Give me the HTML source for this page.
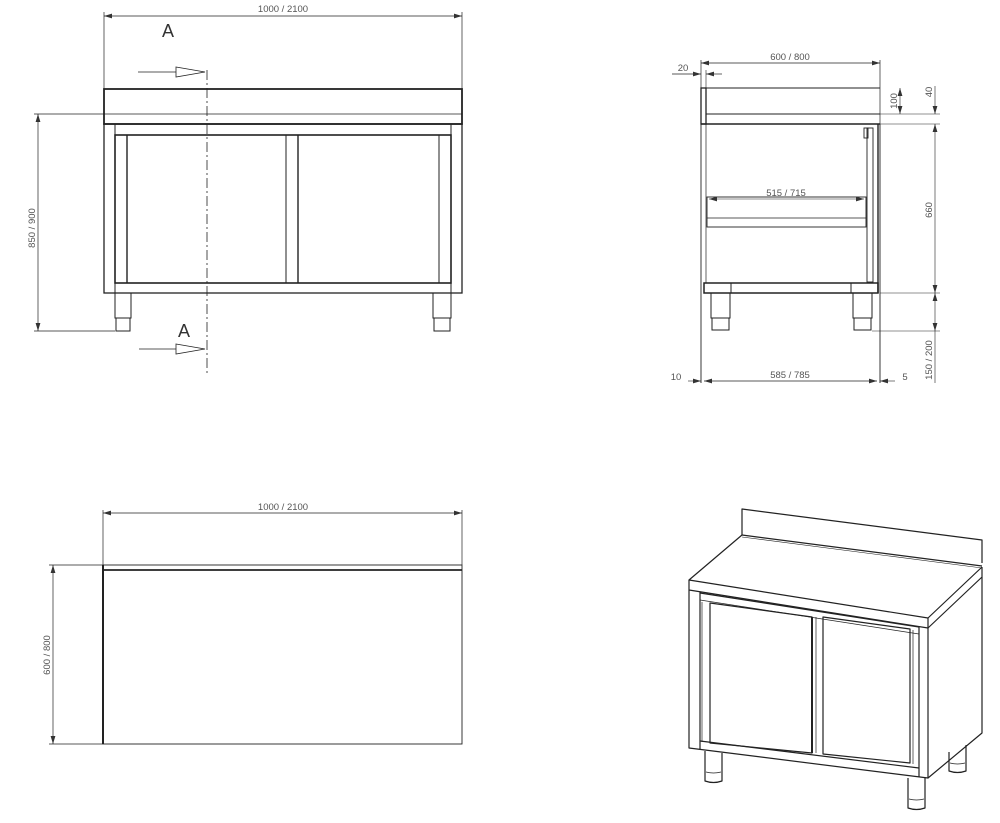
<!DOCTYPE html>
<html><head><meta charset="utf-8"><style>
html,body{margin:0;padding:0;background:#fff;}
svg{display:block;}
text{font-family:"Liberation Sans",sans-serif;font-size:9.5px;fill:#555;stroke:none;font-weight:normal;}
.big{font-size:18px;fill:#333;}
</style></head><body>
<svg width="1000" height="823" viewBox="0 0 1000 823" xmlns="http://www.w3.org/2000/svg" fill="none" stroke="#222" stroke-width="1">
<defs>
<marker id="ar" viewBox="0 0 10 6" refX="10" refY="3" markerWidth="8" markerHeight="5" orient="auto-start-reverse" markerUnits="userSpaceOnUse"><path d="M0,0 L10,3 L0,6 z" fill="#333" stroke="none"/></marker>
</defs>

<!-- ===== FRONT VIEW ===== -->
<line x1="104" y1="16" x2="462" y2="16" stroke-width="0.7" marker-start="url(#ar)" marker-end="url(#ar)"/>
<line x1="104" y1="12" x2="104" y2="89" stroke-width="0.7"/>
<line x1="462" y1="12" x2="462" y2="89" stroke-width="0.7"/>
<text x="283" y="12" text-anchor="middle">1000 / 2100</text>
<text x="168" y="37" class="big" text-anchor="middle">A</text>
<line x1="138" y1="72" x2="176" y2="72" stroke-width="0.8"/>
<path d="M176,67 L205,72 L176,77 Z" stroke-width="0.8"/>
<line x1="207" y1="70" x2="207" y2="373" stroke-width="0.8" stroke-dasharray="10,3,2,3"/>
<text x="184" y="337" class="big" text-anchor="middle">A</text>
<line x1="139" y1="349" x2="176" y2="349" stroke-width="0.8"/>
<path d="M176,344 L205,349 L176,354 Z" stroke-width="0.8"/>
<rect x="104" y="89" width="358" height="35" stroke-width="1.8"/>
<line x1="104" y1="114" x2="462" y2="114" stroke-width="0.8"/>
<rect x="104" y="124" width="358" height="169" stroke-width="1.3"/>
<line x1="115" y1="124" x2="115" y2="293"/>
<line x1="451" y1="124" x2="451" y2="293"/>
<rect x="115" y="135" width="336" height="148" stroke-width="1.6"/>
<line x1="127" y1="135" x2="127" y2="283" stroke-width="1.4"/>
<line x1="286" y1="135" x2="286" y2="283"/>
<line x1="298" y1="135" x2="298" y2="283" stroke-width="1.4"/>
<line x1="439" y1="135" x2="439" y2="283"/>
<rect x="115" y="293" width="16" height="25"/>
<rect x="116" y="318" width="14" height="13"/>
<rect x="433" y="293" width="18" height="25"/>
<rect x="434" y="318" width="16" height="13"/>
<line x1="38" y1="114" x2="38" y2="331" stroke-width="0.7" marker-start="url(#ar)" marker-end="url(#ar)"/>
<line x1="34" y1="114" x2="104" y2="114" stroke-width="0.7"/>
<line x1="34" y1="331" x2="115" y2="331" stroke-width="0.7"/>
<text transform="translate(35,228) rotate(-90)" text-anchor="middle">850 / 900</text>

<!-- ===== SIDE VIEW ===== -->
<line x1="701" y1="63" x2="880" y2="63" stroke-width="0.7" marker-start="url(#ar)" marker-end="url(#ar)"/>
<line x1="701" y1="60" x2="701" y2="88" stroke-width="0.7"/>
<line x1="880" y1="60" x2="880" y2="124" stroke-width="0.7"/>
<text x="790" y="60" text-anchor="middle">600 / 800</text>
<text x="683" y="71" text-anchor="middle">20</text>
<line x1="672" y1="74" x2="701" y2="74" stroke-width="0.7" marker-end="url(#ar)"/>
<line x1="722" y1="74" x2="706" y2="74" stroke-width="0.7" marker-end="url(#ar)"/>
<line x1="706" y1="70" x2="706" y2="88" stroke-width="0.6"/>
<rect x="701" y="88" width="5" height="36" stroke-width="1.3"/>
<line x1="706" y1="88" x2="880" y2="88" stroke-width="0.9"/>
<line x1="706" y1="114" x2="880" y2="114" stroke-width="0.9"/>
<line x1="701" y1="124" x2="880" y2="124" stroke-width="1.6"/>
<line x1="701" y1="124" x2="701" y2="383" stroke-width="0.9"/>
<line x1="706" y1="124" x2="706" y2="283" stroke-width="0.7"/>
<line x1="880" y1="124" x2="880" y2="383" stroke-width="0.9"/>
<line x1="878" y1="124" x2="878" y2="293" stroke-width="1.4"/>
<rect x="867" y="128" width="6" height="154" stroke-width="0.9"/>
<rect x="864" y="128" width="4" height="10" stroke-width="0.9"/>
<rect x="707" y="197" width="159" height="30" stroke-width="0.9"/>
<line x1="707" y1="218" x2="866" y2="218" stroke-width="0.8"/>
<line x1="709" y1="199" x2="864" y2="199" stroke-width="0.6" marker-start="url(#ar)" marker-end="url(#ar)"/>
<text x="786" y="196" text-anchor="middle">515 / 715</text>
<rect x="704" y="283" width="174" height="10" stroke-width="1.5"/>
<line x1="731" y1="283" x2="731" y2="293"/>
<line x1="851" y1="283" x2="851" y2="293"/>
<rect x="711" y="293" width="19" height="25"/>
<rect x="712" y="318" width="17" height="12"/>
<rect x="853" y="293" width="19" height="25"/>
<rect x="854" y="318" width="17" height="12"/>
<line x1="900" y1="88" x2="900" y2="114" stroke-width="0.6" marker-start="url(#ar)" marker-end="url(#ar)"/>
<text transform="translate(897,101) rotate(-90)" text-anchor="middle">100</text>
<line x1="935" y1="86" x2="935" y2="114" stroke-width="0.6" marker-end="url(#ar)"/>
<text transform="translate(932,92) rotate(-90)" text-anchor="middle">40</text>
<line x1="880" y1="114" x2="940" y2="114" stroke-width="0.6"/>
<line x1="935" y1="124" x2="935" y2="293" stroke-width="0.6" marker-start="url(#ar)" marker-end="url(#ar)"/>
<text transform="translate(932,210) rotate(-90)" text-anchor="middle">660</text>
<line x1="880" y1="124" x2="940" y2="124" stroke-width="0.6"/>
<line x1="880" y1="293" x2="940" y2="293" stroke-width="0.6"/>
<line x1="935" y1="293" x2="935" y2="331" stroke-width="0.6" marker-start="url(#ar)" marker-end="url(#ar)"/>
<line x1="872" y1="331" x2="940" y2="331" stroke-width="0.6"/>
<line x1="935" y1="331" x2="935" y2="383" stroke-width="0.6"/>
<text transform="translate(932,360) rotate(-90)" text-anchor="middle">150 / 200</text>
<line x1="704" y1="381" x2="877" y2="381" stroke-width="0.7" marker-start="url(#ar)" marker-end="url(#ar)"/>
<text x="790" y="378" text-anchor="middle">585 / 785</text>
<text x="676" y="380" text-anchor="middle">10</text>
<line x1="688" y1="381" x2="701" y2="381" stroke-width="0.6" marker-end="url(#ar)"/>
<text x="905" y="380" text-anchor="middle">5</text>
<line x1="895" y1="381" x2="880" y2="381" stroke-width="0.6" marker-end="url(#ar)"/>

<!-- ===== TOP VIEW ===== -->
<line x1="103" y1="513" x2="462" y2="513" stroke-width="0.7" marker-start="url(#ar)" marker-end="url(#ar)"/>
<line x1="103" y1="510" x2="103" y2="565" stroke-width="0.7"/>
<line x1="462" y1="510" x2="462" y2="565" stroke-width="0.7"/>
<text x="283" y="510" text-anchor="middle">1000 / 2100</text>
<rect x="103" y="565" width="359" height="179" stroke-width="0.9"/>
<line x1="103" y1="570" x2="462" y2="570" stroke-width="1.8"/>
<line x1="103" y1="565" x2="103" y2="744" stroke-width="2"/>
<line x1="53" y1="565" x2="53" y2="744" stroke-width="0.7" marker-start="url(#ar)" marker-end="url(#ar)"/>
<line x1="49" y1="565" x2="103" y2="565" stroke-width="0.7"/>
<line x1="49" y1="744" x2="103" y2="744" stroke-width="0.7"/>
<text transform="translate(50,655) rotate(-90)" text-anchor="middle">600 / 800</text>

<!-- ===== ISOMETRIC ===== -->
<g stroke-width="1.2" stroke-linejoin="round">
<path d="M742,535 L742,509 L982,540 L982,563"/>
<line x1="742" y1="535" x2="982" y2="566"/>
<line x1="742" y1="537" x2="982" y2="568" stroke-width="0.6"/>
<path d="M742,535 L689,580 L928,618 L982,567"/>
<path d="M689,580 L689,590 L928,628 L928,618"/>
<path d="M928,628 L982,577 L982,567"/>
<path d="M689,590 L689,748 L928,778 L928,628"/>
<line x1="700" y1="592" x2="700" y2="749"/>
<line x1="919" y1="627" x2="919" y2="777"/>
<path d="M982,577 L982,733 L928,778"/>
<line x1="700" y1="593" x2="919" y2="627"/>
<line x1="700" y1="600" x2="919" y2="634" stroke-width="0.7"/>
<line x1="700" y1="741" x2="919" y2="768"/>
<path d="M710,603 L812,617 L812,753 L710,743 Z"/>
<line x1="702" y1="602" x2="702" y2="742" stroke-width="0.7"/>
<line x1="812" y1="617" x2="812" y2="753" stroke-width="2"/>
<path d="M823,617 L910,629 L910,763 L823,754 Z"/>
<line x1="816" y1="617" x2="816" y2="753" stroke-width="0.7"/>
<line x1="913" y1="630" x2="913" y2="764" stroke-width="0.7"/>
<path d="M705,751 L705,781 Q713.5,784 722,781 L722,753"/>
<path d="M706,772 Q713.5,774 721,772" stroke-width="0.7"/>
<path d="M908,778 L908,808 Q916.5,811 925,808 L925,778"/>
<path d="M909,799 Q916.5,801 924,799" stroke-width="0.7"/>
<path d="M949,752 L949,771 Q957.5,774 966,771 L966,745"/>
<path d="M950,763 Q957.5,765 965,763" stroke-width="0.7"/>
</g>
</svg>
</body></html>
